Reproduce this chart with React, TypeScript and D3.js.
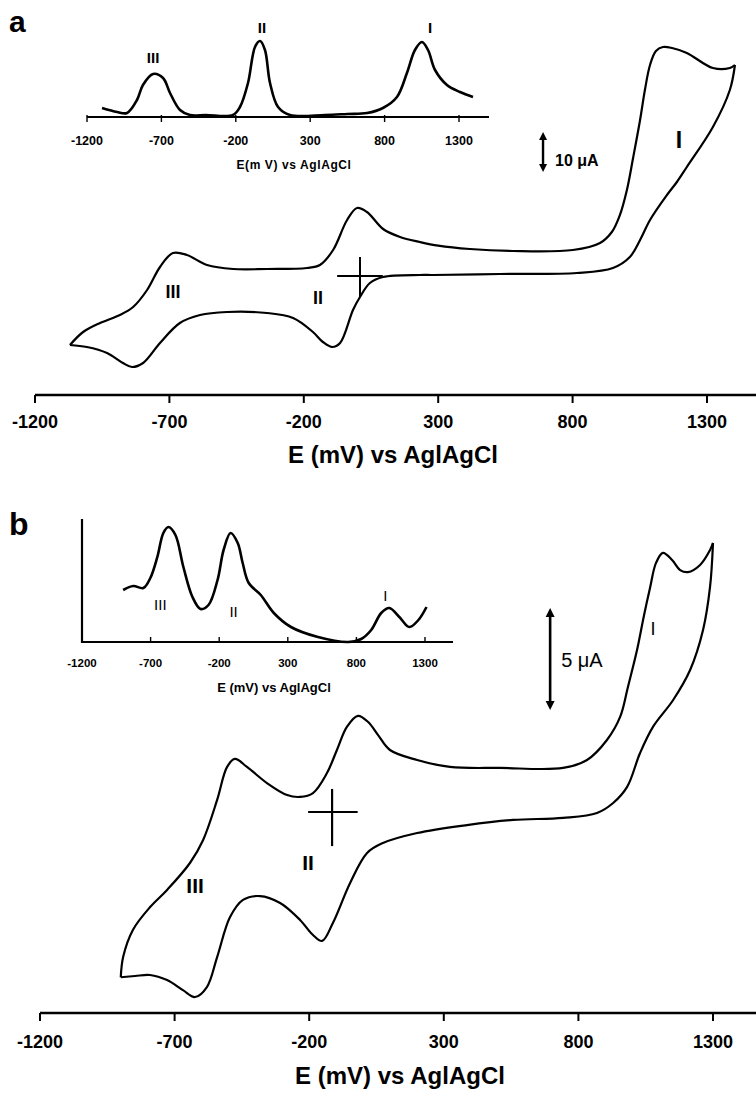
import React from 'react';
import * as d3 from 'd3';

type P = [number, number];

// Shared potential ticks (mV vs Ag|AgCl)
const ticksE = [-1200, -700, -200, 300, 800, 1300];

// ---------- Panel a: cyclic voltammogram (E mV, I µA) ----------
const cvAForward: P[] = [
  [-1070, -17.25], [-1021, -14], [-958, -11.75], [-884, -9.75], [-835, -7.75],
  [-783, -3.5], [-735, 2.25], [-687, 5.75], [-635, 5.25], [-560, 2.75],
  [-463, 1.75], [-337, 1.75], [-188, 2], [-140, 2.75], [-91, 6.5],
  [-39, 14], [-2, 17], [35, 16], [95, 11.75], [158, 9.75], [232, 8.5],
  [300, 7.6], [418, 6.75], [578, 6.25], [801, 6.5], [902, 8.25], [946, 11],
  [976, 15.25], [1002, 21.5], [1025, 29.5], [1051, 39], [1069, 46.5],
  [1088, 52.75], [1110, 56.25], [1136, 57.25], [1170, 57], [1225, 55.75],
  [1322, 52], [1385, 52], [1404, 52.75],
];
const cvAReverse: P[] = [
  [1404, 52.75], [1385, 46.5], [1322, 37.25], [1225, 27.25], [1188, 23.5],
  [1151, 20.25], [1088, 14], [1051, 9], [1013, 4.75], [950, 2], [816, 0.75],
  [530, 0.5], [281, 0.25], [232, 0.25], [95, -0.25], [46, -1.75], [9, -5.25],
  [-17, -8.5], [-65, -16.75], [-95, -17.75], [-129, -16.5], [-166, -14],
  [-240, -10.5], [-337, -9.25], [-486, -9], [-586, -9.75], [-661, -11.75],
  [-735, -16.75], [-798, -21.75], [-839, -22.75], [-873, -21.75],
  [-932, -19.25], [-1007, -17.75], [-1070, -17.25],
];
// Panel a inset: differential pulse voltammogram (E mV, arbitrary units)
const dpvA: P[] = [
  [-1099, 9], [-998, 5], [-931, 4], [-864, 17], [-824, 32], [-756, 43],
  [-689, 39], [-642, 24], [-575, 7], [-508, 2], [-400, 2], [-219, 2],
  [-172, 10], [-118, 34], [-71, 70], [-37, 76], [-4, 67], [30, 34], [84, 10],
  [164, 2], [400, 2], [550, 3], [682, 4], [789, 9], [883, 20], [950, 44],
  [1004, 67], [1051, 75], [1092, 67], [1139, 47], [1219, 32], [1307, 25],
  [1394, 20],
];

// ---------- Panel b ----------
const cvBForward: P[] = [
  [-900, -8.1], [-891, -7.1], [-855, -5.78], [-791, -4.66], [-728, -3.82],
  [-643, -2.5], [-594, -1.37], [-542, 0.59], [-505, 2.21], [-476, 2.6],
  [-431, 2.21], [-357, 1.42], [-282, 0.83], [-234, 0.74], [-186, 0.93],
  [-134, 1.91], [-97, 3.04], [-60, 4.17], [-19, 4.71], [19, 4.41], [56, 3.77],
  [100, 3.04], [201, 2.55], [323, 2.21], [509, 2.16], [743, 2.16], [832, 2.55],
  [906, 3.53], [955, 4.66], [984, 6.13], [1018, 7.95], [1044, 9.66],
  [1066, 10.98], [1088, 12.2], [1114, 12.7], [1148, 12.35], [1178, 11.86],
  [1207, 11.76], [1252, 12.11], [1289, 12.84], [1300, 13.19],
];
const cvBReverse: P[] = [
  [1300, 13.19], [1289, 11.03], [1263, 8.92], [1215, 6.96], [1152, 5.49],
  [1077, 4.17], [1029, 2.89], [981, 1.23], [929, 0.44], [869, -0.05],
  [743, -0.29], [557, -0.39], [386, -0.64], [201, -1.03], [74, -1.52],
  [15, -2.01], [-48, -3.48], [-112, -5.44], [-152, -6.32], [-186, -6.03],
  [-234, -5.29], [-308, -4.46], [-383, -4.12], [-446, -4.31], [-494, -5.15],
  [-542, -7.11], [-580, -8.58], [-624, -9.07], [-669, -8.73], [-728, -8.24],
  [-791, -7.99], [-847, -8.04], [-900, -8.1],
];
const dpvB: P[] = [
  [-900, 52], [-827, 56], [-753, 54], [-702, 64], [-651, 85], [-607, 109],
  [-570, 115], [-519, 107], [-461, 75], [-395, 45], [-336, 33], [-278, 37],
  [-212, 62], [-168, 92], [-117, 109], [-65, 99], [-29, 79], [15, 59],
  [103, 47], [198, 29], [323, 15], [520, 5], [740, 0], [835, 3], [908, 12],
  [981, 29], [1040, 34], [1113, 25], [1186, 15], [1252, 22], [1311, 35],
];

// Annotations (data coordinates)
const labelsAMain = [
  { t: 'III', e: -687, i: -4 },
  { t: 'II', e: -147, i: -5.5 },
];
const labelsAInset = [
  { t: 'III', e: -756, v: 59 },
  { t: 'II', e: -24, v: 89 },
  { t: 'I', e: 1105, v: 89 },
];
const labelsBMain = [
  { t: 'III', e: -624, i: -3.58 },
  { t: 'II', e: -204, i: -2.45 },
];
const labelsBInset = [
  { t: 'III', e: -629, v: 37 },
  { t: 'II', e: -95, v: 30 },
  { t: 'I', e: 1011, v: 46 },
];

const FONT = "'Liberation Sans', Arial, Helvetica, sans-serif";

export default function App() {
  // scales
  const xA = d3.scaleLinear().domain([-1200, 1300]).range([35, 707]);
  const yA = d3.scaleLinear().domain([0, 10]).range([276, 236]);
  const xAi = d3.scaleLinear().domain([-1200, 1300]).range([87, 459]);
  const yAi = d3.scaleLinear().domain([0, 100]).range([117, 17]);
  const xB = d3.scaleLinear().domain([-1200, 1300]).range([40, 713]);
  const yB = d3.scaleLinear().domain([0, 5]).range([812, 710]);
  const xBi = d3.scaleLinear().domain([-1200, 1300]).range([82, 425]);
  const yBi = d3.scaleLinear().domain([0, 100]).range([642, 542]);

  const mk = (x: d3.ScaleLinear<number, number>, y: d3.ScaleLinear<number, number>) =>
    d3.line<P>().x(d => x(d[0])).y(d => y(d[1])).curve(d3.curveCatmullRom.alpha(0.5));

  const lA = mk(xA, yA);
  const lAi = mk(xAi, yAi);
  const lB = mk(xB, yB);
  const lBi = mk(xBi, yBi);

  const axisAY = 395;
  const axisBY = 1013;

  const arrowHead = (x: number, y: number, dir: number, w: number, h: number) =>
    `M${x},${y} L${x - w / 2},${y + dir * h} L${x + w / 2},${y + dir * h} Z`;

  // scale bars (data)
  const sbA = { e: 690, i0: 26, i1: 36 };
  const sbB = { e: 695, i0: 5, i1: 10 };

  return (
    <svg width={756} height={1095} style={{ position: 'absolute', left: 0, top: 0, background: '#fff' }}
      fontFamily={FONT}>
      <rect x={0} y={0} width={756} height={1095} fill="#fff" />

      {/* ================= Panel a ================= */}
      <text x={9} y={32} fontSize={30} fontWeight="bold">a</text>

      {/* inset a */}
      <path d={lAi(dpvA) || ''} fill="none" stroke="#000" strokeWidth={2.6} />
      <line x1={xAi(-1200)} x2={489} y1={117} y2={117} stroke="#000" strokeWidth={2.2} />
      {ticksE.map(t => (
        <line key={'ati' + t} x1={xAi(t)} x2={xAi(t)} y1={115} y2={122} stroke="#000" strokeWidth={1.4} />
      ))}
      {ticksE.map(t => (
        <text key={'atl' + t} x={xAi(t)} y={145} fontSize={12.5} fontWeight="bold" textAnchor="middle">{t}</text>
      ))}
      <text x={294} y={169} fontSize={12} fontWeight="bold" textAnchor="middle" letterSpacing={0.6}>E(m V) vs AglAgCl</text>
      {labelsAInset.map(l => (
        <text key={'ali' + l.t} x={xAi(l.e)} y={yAi(l.v)} dy="0.36em" fontSize={15} fontWeight="bold" textAnchor="middle">{l.t}</text>
      ))}

      {/* main CV a */}
      <path d={lA(cvAForward) || ''} fill="none" stroke="#000" strokeWidth={2.2} />
      <path d={lA(cvAReverse) || ''} fill="none" stroke="#000" strokeWidth={2.2} />
      {/* cross (origin marker) */}
      <line x1={xA(-76)} x2={xA(94)} y1={yA(0)} y2={yA(0)} stroke="#000" strokeWidth={2} />
      <line x1={xA(9)} x2={xA(9)} y1={yA(4.75)} y2={yA(-5.25)} stroke="#000" strokeWidth={2} />
      {labelsAMain.map(l => (
        <text key={'alm' + l.t} x={xA(l.e)} y={yA(l.i)} dy="0.36em" fontSize={18} fontWeight="bold" textAnchor="middle">{l.t}</text>
      ))}
      <text x={xA(1196)} y={yA(34)} dy="0.36em" fontSize={23} fontWeight="bold" textAnchor="middle">I</text>

      {/* scale bar a */}
      <line x1={xA(sbA.e)} x2={xA(sbA.e)} y1={yA(sbA.i0) - 6} y2={yA(sbA.i1) + 6} stroke="#000" strokeWidth={2.4} />
      <path d={arrowHead(xA(sbA.e), yA(sbA.i1), 1, 8, 8)} fill="#000" />
      <path d={arrowHead(xA(sbA.e), yA(sbA.i0), -1, 8, 8)} fill="#000" />
      <text x={xA(sbA.e) + 12} y={yA(sbA.i0) - 6} fontSize={16} fontWeight="bold">10 μA</text>

      {/* axis a */}
      <line x1={xA(-1200)} x2={756} y1={axisAY} y2={axisAY} stroke="#000" strokeWidth={2.4} />
      {ticksE.map(t => (
        <line key={'at' + t} x1={xA(t)} x2={xA(t)} y1={axisAY} y2={axisAY + 8} stroke="#000" strokeWidth={2} />
      ))}
      {ticksE.map(t => (
        <text key={'al' + t} x={xA(t)} y={axisAY + 33} fontSize={18} fontWeight="bold" textAnchor="middle">{t}</text>
      ))}
      <text x={393} y={axisAY + 68} fontSize={24} fontWeight="bold" textAnchor="middle">E (mV) vs AglAgCl</text>

      {/* ================= Panel b ================= */}
      <text x={9} y={535} fontSize={32} fontWeight="bold">b</text>

      {/* inset b */}
      <path d={lBi(dpvB) || ''} fill="none" stroke="#000" strokeWidth={2.6} />
      <line x1={xBi(-1200)} x2={xBi(-1200)} y1={519} y2={yBi(0) + 1} stroke="#000" strokeWidth={2.2} />
      <line x1={xBi(-1200)} x2={453} y1={yBi(0)} y2={yBi(0)} stroke="#000" strokeWidth={2.2} />
      {ticksE.slice(1).map(t => (
        <line key={'bti' + t} x1={xBi(t)} x2={xBi(t)} y1={yBi(0)} y2={yBi(0) - 5} stroke="#000" strokeWidth={1.4} />
      ))}
      {ticksE.map(t => (
        <text key={'btl' + t} x={xBi(t)} y={667} fontSize={11.5} fontWeight="bold" textAnchor="middle">{t}</text>
      ))}
      <text x={274} y={692} fontSize={13} fontWeight="bold" textAnchor="middle">E (mV) vs AglAgCl</text>
      {labelsBInset.map(l => (
        <text key={'bli' + l.t} x={xBi(l.e)} y={yBi(l.v)} dy="0.36em" fontSize={15} textAnchor="middle">{l.t}</text>
      ))}

      {/* main CV b */}
      <path d={lB(cvBForward) || ''} fill="none" stroke="#000" strokeWidth={2.2} />
      <path d={lB(cvBReverse) || ''} fill="none" stroke="#000" strokeWidth={2.2} />
      <line x1={xB(-204)} x2={xB(-20)} y1={yB(0)} y2={yB(0)} stroke="#000" strokeWidth={2.2} />
      <line x1={xB(-115)} x2={xB(-115)} y1={yB(1.13)} y2={yB(-1.67)} stroke="#000" strokeWidth={2.2} />
      {labelsBMain.map(l => (
        <text key={'blm' + l.t} x={xB(l.e)} y={yB(l.i)} dy="0.36em" fontSize={21} fontWeight="bold" textAnchor="middle">{l.t}</text>
      ))}
      <text x={xB(1077)} y={yB(9)} dy="0.36em" fontSize={18} textAnchor="middle">I</text>

      {/* scale bar b */}
      <line x1={xB(sbB.e)} x2={xB(sbB.e)} y1={yB(sbB.i0) - 6} y2={yB(sbB.i1) + 6} stroke="#000" strokeWidth={2.6} />
      <path d={arrowHead(xB(sbB.e), yB(sbB.i1), 1, 9, 9)} fill="#000" />
      <path d={arrowHead(xB(sbB.e), yB(sbB.i0), -1, 9, 9)} fill="#000" />
      <text x={xB(sbB.e) + 11} y={(yB(sbB.i0) + yB(sbB.i1)) / 2 + 8} fontSize={20}>5 μA</text>

      {/* axis b */}
      <line x1={xB(-1200)} x2={756} y1={axisBY} y2={axisBY} stroke="#000" strokeWidth={2.4} />
      {ticksE.map(t => (
        <line key={'bt' + t} x1={xB(t)} x2={xB(t)} y1={axisBY} y2={axisBY + 8} stroke="#000" strokeWidth={2} />
      ))}
      {ticksE.map(t => (
        <text key={'bl' + t} x={xB(t)} y={axisBY + 35} fontSize={18} fontWeight="bold" textAnchor="middle">{t}</text>
      ))}
      <text x={400} y={axisBY + 71} fontSize={24} fontWeight="bold" textAnchor="middle">E (mV) vs AglAgCl</text>
    </svg>
  );
}
